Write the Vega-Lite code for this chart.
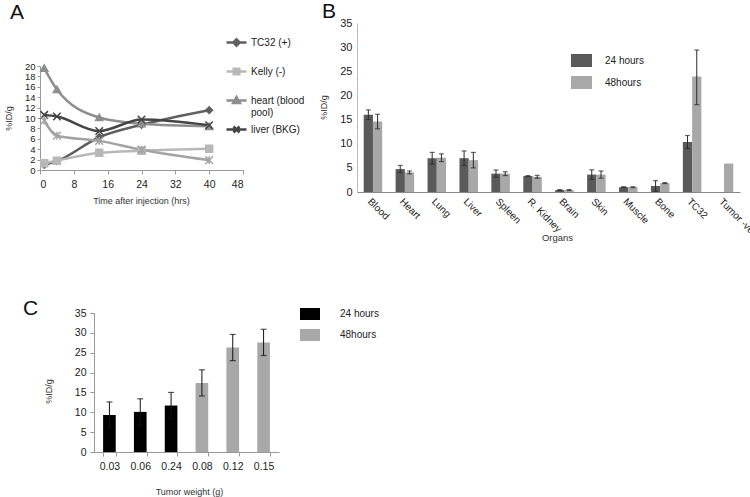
{
  "$schema": "https://vega.github.io/schema/vega-lite/v6.json",
  "padding": 0,
  "background": "white",
  "spacing": 0,
  "bounds": "flush",
  "columns": 2,
  "config": {
    "view": {"stroke": null},
    "axis": {"grid": false, "labelOverlap": false, "labelFont": "Liberation Sans", "titleFont": "Liberation Sans", "titleFontWeight": "normal", "labelColor": "#222", "titleColor": "#333", "domainColor": "#999", "tickColor": "#999"},
    "legend": {"labelFont": "Liberation Sans", "labelColor": "#222"},
    "title": {"font": "Liberation Sans", "fontWeight": "normal", "color": "#111", "fontSize": 21, "anchor": "start", "frame": "group", "offset": 0}
  },
  "resolve": {"scale": {"x": "independent", "y": "independent", "color": "independent", "xOffset": "independent"}, "axis": {"x": "independent", "y": "independent"}, "legend": {"color": "independent"}},
  "concat": [
    {
      "width": 330,
      "height": 200,
      "title": {"text": "A", "dx": 10, "dy": 48, "baseline": "bottom"},
      "data": {"values": [
        {"series": "TC32 (+)", "t": 1, "v": 1.0},
        {"series": "TC32 (+)", "t": 4, "v": 1.7},
        {"series": "TC32 (+)", "t": 14, "v": 6.3},
        {"series": "TC32 (+)", "t": 24, "v": 8.7},
        {"series": "TC32 (+)", "t": 40, "v": 11.5},
        {"series": "Kelly (-)", "t": 1, "v": 1.3},
        {"series": "Kelly (-)", "t": 4, "v": 1.8},
        {"series": "Kelly (-)", "t": 14, "v": 3.3},
        {"series": "Kelly (-)", "t": 24, "v": 3.7},
        {"series": "Kelly (-)", "t": 40, "v": 4.1},
        {"series": "heart (blood pool)", "t": 1, "v": 19.6},
        {"series": "heart (blood pool)", "t": 4, "v": 15.5},
        {"series": "heart (blood pool)", "t": 14, "v": 10.1},
        {"series": "heart (blood pool)", "t": 24, "v": 8.9},
        {"series": "heart (blood pool)", "t": 40, "v": 8.4},
        {"series": "liver (BKG)", "t": 1, "v": 10.6},
        {"series": "liver (BKG)", "t": 4, "v": 10.3},
        {"series": "liver (BKG)", "t": 14, "v": 7.5},
        {"series": "liver (BKG)", "t": 24, "v": 9.7},
        {"series": "liver (BKG)", "t": 40, "v": 8.6},
        {"series": "unlabelled", "t": 1, "v": 9.5},
        {"series": "unlabelled", "t": 4, "v": 6.6},
        {"series": "unlabelled", "t": 14, "v": 5.6},
        {"series": "unlabelled", "t": 24, "v": 3.9},
        {"series": "unlabelled", "t": 40, "v": 1.9}
      ]},
      "layer": [
        {
          "mark": {"type": "line", "strokeWidth": 2.5, "interpolate": "monotone"},
          "encoding": {
            "x": {"field": "t", "type": "quantitative", "scale": {"domain": [0, 48], "range": [40, 243], "nice": false, "zero": false},
              "axis": {"orient": "bottom", "offset": -30, "values": [0, 8, 16, 24, 32, 40, 48], "tickCount": 20, "labelOverlap": false, "tickSize": 4, "labelPadding": 5, "labelFontSize": 10.5, "title": "Time after injection (hrs)", "titleFontSize": 9, "titleX": 141, "titleY": 26, "titleBaseline": "top"}},
            "y": {"field": "v", "type": "quantitative", "scale": {"domain": [0, 20], "range": [170, 66], "nice": false},
              "axis": {"orient": "left", "offset": -40, "values": [0, 2, 4, 6, 8, 10, 12, 14, 16, 18, 20], "tickCount": 20, "labelOverlap": false, "tickSize": 3, "labelPadding": 2, "labelFontSize": 9.5, "title": "%ID/g", "titleFontSize": 9, "titleX": -27, "titleY": 118}},
            "color": {"field": "series", "type": "nominal",
              "scale": {"domain": ["TC32 (+)", "Kelly (-)", "heart (blood pool)", "liver (BKG)", "unlabelled"], "range": ["#606060", "#b8b8b8", "#8e8e8e", "#454545", "#a3a3a3"]},
              "legend": {"orient": "none", "legendX": 225, "legendY": 31, "title": null,
                "values": ["TC32 (+)", "Kelly (-)", "heart (blood pool)", "liver (BKG)"],
                "symbolType": "M-1,0H1", "symbolSize": 400, "symbolStrokeWidth": 2.5,
                "labelFontSize": 10, "labelOffset": 3, "rowPadding": -2, "labelLimit": 0,
                "labelExpr": "datum.label == 'heart (blood pool)' ? ['heart (blood', 'pool)'] : [datum.label, ' ']",
                "encode": {"symbols": {"update": {
                  "shape": {"signal": "datum.value == 'TC32 (+)' ? 'M-1,0H1M0,-0.32L0.32,0L0,0.32L-0.32,0Z' : datum.value == 'Kelly (-)' ? 'M-1,0H1M-0.28,-0.28H0.28V0.28H-0.28Z' : datum.value == 'heart (blood pool)' ? 'M-1,0H1M0,-0.34L0.34,0.26H-0.34Z' : 'M-1,0H1M-0.3,-0.3L0.3,0.3M-0.3,0.3L0.3,-0.3'"},
                  "fill": {"signal": "datum.value == 'TC32 (+)' ? '#606060' : datum.value == 'Kelly (-)' ? '#b8b8b8' : datum.value == 'heart (blood pool)' ? '#8e8e8e' : '#454545'"},
                  "stroke": {"signal": "datum.value == 'TC32 (+)' ? '#606060' : datum.value == 'Kelly (-)' ? '#b8b8b8' : datum.value == 'heart (blood pool)' ? '#8e8e8e' : '#454545'"},
                  "fillOpacity": {"value": 1},
                  "strokeWidth": {"value": 2.5}
                }}}
              }}
          }
        },
        {
          "mark": {"type": "point", "filled": true, "strokeWidth": 1.5, "opacity": 1},
          "encoding": {
            "x": {"field": "t", "type": "quantitative"},
            "y": {"field": "v", "type": "quantitative"},
            "color": {"field": "series", "type": "nominal"},
            "stroke": {"field": "series", "type": "nominal", "legend": null,
              "scale": {"domain": ["TC32 (+)", "Kelly (-)", "heart (blood pool)", "liver (BKG)", "unlabelled"], "range": ["#606060", "#b8b8b8", "#8e8e8e", "#454545", "#a3a3a3"]}},
            "shape": {"field": "series", "type": "nominal", "legend": null,
              "scale": {"domain": ["TC32 (+)", "Kelly (-)", "heart (blood pool)", "liver (BKG)", "unlabelled"], "range": ["diamond", "square", "triangle-up", "M-1,-1L1,1M-1,1L1,-1", "M-1,-1L1,1M-1,1L1,-1M0,-1V1"]}},
            "size": {"field": "series", "type": "nominal", "legend": null,
              "scale": {"domain": ["TC32 (+)", "Kelly (-)", "heart (blood pool)", "liver (BKG)", "unlabelled"], "range": [45, 60, 55, 50, 50]}}
          }
        }
      ]
    },
    {
      "width": 420,
      "height": 200,
      "title": {"text": "B", "dx": -8, "dy": 47, "baseline": "bottom"},
      "data": {"values": [
        {"organ": "Blood", "time": "24 hours", "value": 16.0, "lo": 15.0, "hi": 17.0},
        {"organ": "Blood", "time": "48hours", "value": 14.6, "lo": 13.1, "hi": 16.1},
        {"organ": "Heart", "time": "24 hours", "value": 4.75, "lo": 4.0, "hi": 5.5},
        {"organ": "Heart", "time": "48hours", "value": 4.05, "lo": 3.75, "hi": 4.35},
        {"organ": "Lung", "time": "24 hours", "value": 7.0, "lo": 5.8, "hi": 8.2},
        {"organ": "Lung", "time": "48hours", "value": 7.1, "lo": 6.3, "hi": 7.9},
        {"organ": "Liver", "time": "24 hours", "value": 7.0, "lo": 5.5, "hi": 8.5},
        {"organ": "Liver", "time": "48hours", "value": 6.6, "lo": 5.0, "hi": 8.2},
        {"organ": "Spleen", "time": "24 hours", "value": 3.8, "lo": 3.05, "hi": 4.55},
        {"organ": "Spleen", "time": "48hours", "value": 3.8, "lo": 3.4, "hi": 4.2},
        {"organ": "R. Kidney", "time": "24 hours", "value": 3.3, "lo": 3.2, "hi": 3.4},
        {"organ": "R. Kidney", "time": "48hours", "value": 3.15, "lo": 2.85, "hi": 3.45},
        {"organ": "Brain", "time": "24 hours", "value": 0.4, "lo": 0.3, "hi": 0.5},
        {"organ": "Brain", "time": "48hours", "value": 0.4, "lo": 0.3, "hi": 0.5},
        {"organ": "Skin", "time": "24 hours", "value": 3.6, "lo": 2.6, "hi": 4.6},
        {"organ": "Skin", "time": "48hours", "value": 3.6, "lo": 2.85, "hi": 4.35},
        {"organ": "Muscle", "time": "24 hours", "value": 1.0, "lo": 0.9, "hi": 1.1},
        {"organ": "Muscle", "time": "48hours", "value": 1.0, "lo": 0.92, "hi": 1.08},
        {"organ": "Bone", "time": "24 hours", "value": 1.25, "lo": 0.15, "hi": 2.35},
        {"organ": "Bone", "time": "48hours", "value": 1.85, "lo": 1.75, "hi": 1.95},
        {"organ": "TC32", "time": "24 hours", "value": 10.35, "lo": 9.0, "hi": 11.7},
        {"organ": "TC32", "time": "48hours", "value": 23.9, "lo": 18.1, "hi": 29.4},
        {"organ": "Tumor -ve", "time": "48hours", "value": 5.9}
      ]},
      "layer": [
        {
          "mark": {"type": "bar"},
          "encoding": {
            "x": {"field": "organ", "type": "nominal",
              "scale": {"domain": ["Blood", "Heart", "Lung", "Liver", "Spleen", "R. Kidney", "Brain", "Skin", "Muscle", "Bone", "TC32", "Tumor -ve"], "range": [27, 410], "paddingInner": 0.42, "paddingOuter": 0.21},
              "axis": {"orient": "bottom", "offset": -8, "labelAngle": 45, "ticks": false, "labelPadding": 4, "labelFontSize": 10, "domainColor": "#888", "title": "Organs", "titleFontSize": 9.5, "titleX": 227, "titleY": 40, "titleBaseline": "top"}},
            "xOffset": {"field": "time", "type": "nominal", "scale": {"domain": ["24 hours", "48hours"], "paddingInner": 0, "paddingOuter": 0}},
            "y": {"field": "value", "type": "quantitative", "scale": {"domain": [0, 35], "range": [192, 23], "nice": false},
              "axis": {"orient": "left", "offset": -27, "values": [0, 5, 10, 15, 20, 25, 30, 35], "tickCount": 20, "labelOverlap": false, "ticks": false, "labelPadding": 5, "labelFontSize": 11, "domainColor": "#bbb", "title": "%ID/g", "titleFontSize": 9, "titleX": -29, "titleY": 107}},
            "color": {"field": "time", "type": "nominal",
              "scale": {"domain": ["24 hours", "48hours"], "range": ["#5a5a5a", "#a8a8a8"]},
              "legend": {"orient": "none", "legendX": 241, "legendY": 50, "title": null,
                "symbolType": "M-1,-0.62H1V0.62H-1Z", "symbolSize": 441, "symbolStrokeWidth": 0,
                "labelFontSize": 10, "labelOffset": 13, "rowPadding": 4,
                "encode": {"symbols": {"update": {"fill": {"signal": "datum.value == '24 hours' ? '#000000' : '#a8a8a8'"}, "fillOpacity": {"value": 1}}}}}}
          }
        },
        {
          "mark": {"type": "rule", "color": "#2a2a2a", "strokeWidth": 1},
          "encoding": {
            "x": {"field": "organ", "type": "nominal"},
            "xOffset": {"field": "time", "type": "nominal"},
            "y": {"field": "lo", "type": "quantitative"},
            "y2": {"field": "hi"}
          }
        },
        {
          "mark": {"type": "tick", "color": "#2a2a2a", "size": 5, "thickness": 1.2},
          "encoding": {
            "x": {"field": "organ", "type": "nominal"},
            "xOffset": {"field": "time", "type": "nominal"},
            "y": {"field": "hi", "type": "quantitative"}
          }
        },
        {
          "mark": {"type": "tick", "color": "#2a2a2a", "size": 5, "thickness": 1.2},
          "encoding": {
            "x": {"field": "organ", "type": "nominal"},
            "xOffset": {"field": "time", "type": "nominal"},
            "y": {"field": "lo", "type": "quantitative"}
          }
        }
      ]
    },
    {
      "width": 330,
      "height": 297,
      "title": {"text": "C", "dx": 23, "dy": 144, "baseline": "bottom"},
      "data": {"values": [
        {"weight": "0.03", "time": "24 hours", "value": 9.3, "lo": 6.0, "hi": 12.6},
        {"weight": "0.06", "time": "24 hours", "value": 10.1, "lo": 6.8, "hi": 13.4},
        {"weight": "0.24", "time": "24 hours", "value": 11.7, "lo": 8.4, "hi": 15.0},
        {"weight": "0.08", "time": "48hours", "value": 17.4, "lo": 14.1, "hi": 20.7},
        {"weight": "0.12", "time": "48hours", "value": 26.3, "lo": 23.0, "hi": 29.6},
        {"weight": "0.15", "time": "48hours", "value": 27.6, "lo": 24.3, "hi": 30.9}
      ]},
      "layer": [
        {
          "mark": {"type": "bar"},
          "encoding": {
            "x": {"field": "weight", "type": "nominal",
              "scale": {"domain": ["0.03", "0.06", "0.24", "0.08", "0.12", "0.15"], "range": [94, 279], "paddingInner": 0.59, "paddingOuter": 0.295},
              "axis": {"orient": "bottom", "offset": -45, "labelAngle": 0, "tickBand": "extent", "tickSize": 4, "labelPadding": 5, "labelFontSize": 10.5, "title": "Tumor weight (g)", "titleFontSize": 9, "titleX": 189, "titleY": 35, "titleBaseline": "top"}},
            "y": {"field": "value", "type": "quantitative", "scale": {"domain": [0, 35], "range": [252, 113], "nice": false},
              "axis": {"orient": "left", "offset": -94, "values": [0, 5, 10, 15, 20, 25, 30, 35], "tickCount": 20, "labelOverlap": false, "tickSize": 4, "labelPadding": 4, "labelFontSize": 10.5, "title": "%ID/g", "titleFontSize": 9, "titleX": -41, "titleY": 191}},
            "color": {"field": "time", "type": "nominal",
              "scale": {"domain": ["24 hours", "48hours"], "range": ["#000000", "#a8a8a8"]},
              "legend": {"orient": "none", "legendX": 300, "legendY": 104, "title": null,
                "symbolType": "M-1,-0.6H1V0.6H-1Z", "symbolSize": 400, "symbolStrokeWidth": 0,
                "labelFontSize": 10, "labelOffset": 20, "rowPadding": 5,
                "encode": {"symbols": {"update": {"fillOpacity": {"value": 1}}}}}}
          }
        },
        {
          "mark": {"type": "rule", "color": "#111", "strokeWidth": 1},
          "encoding": {
            "x": {"field": "weight", "type": "nominal"},
            "y": {"field": "lo", "type": "quantitative"},
            "y2": {"field": "hi"}
          }
        },
        {
          "mark": {"type": "tick", "color": "#111", "size": 6, "thickness": 1.2},
          "encoding": {
            "x": {"field": "weight", "type": "nominal"},
            "y": {"field": "hi", "type": "quantitative"}
          }
        },
        {
          "mark": {"type": "tick", "color": "#111", "size": 6, "thickness": 1.2},
          "encoding": {
            "x": {"field": "weight", "type": "nominal"},
            "y": {"field": "lo", "type": "quantitative"}
          }
        }
      ]
    }
  ]
}
